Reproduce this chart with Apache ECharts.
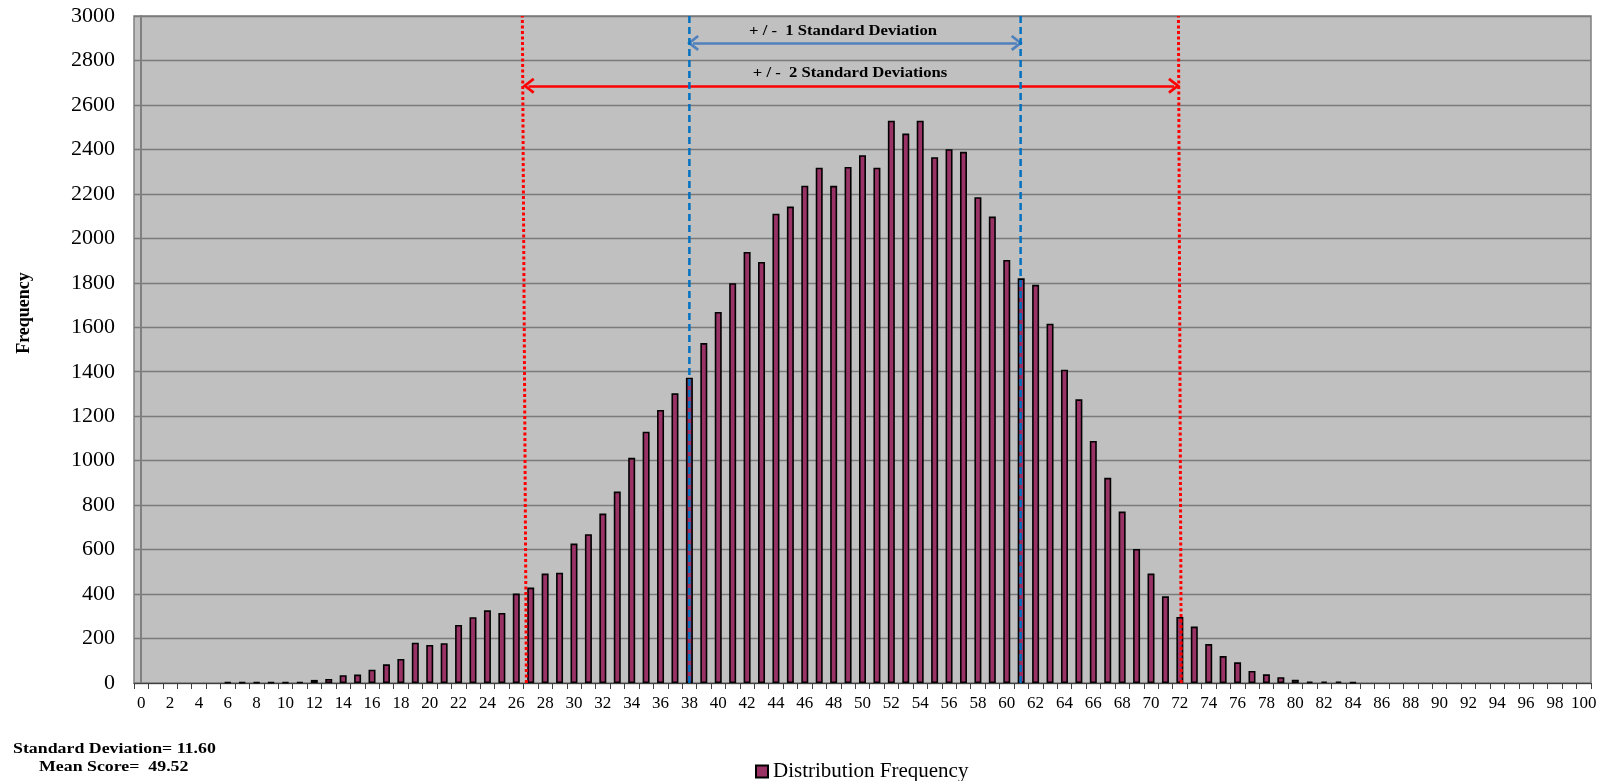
<!DOCTYPE html>
<html>
<head>
<meta charset="utf-8">
<script src="https://cdn.jsdelivr.net/npm/echarts@6/dist/echarts.min.js"></script>
<style>
html,body{margin:0;padding:0;background:#fff;}
#chart{width:1611px;height:781px;}
</style>
</head>
<body>
<div id="chart"></div>
<script>
// Scores 0..100 (category tick labels)
var categories = [];
for (var i = 0; i <= 100; i++) categories.push(String(i));

// Frequency per score
var frequency = [
  0, 0, 0, 0, 0, 0, 3, 3, 3, 3,          // 0-9
  3, 4, 14, 18, 35, 38, 60, 84, 108, 181, // 10-19
  171, 179, 261, 296, 327, 315, 402, 429, 492, 496, // 20-29
  627, 669, 762, 861, 1013, 1130, 1228, 1303, 1373, 1529, // 30-39
  1669, 1798, 1939, 1894, 2111, 2143, 2237, 2318, 2236, 2321, // 40-49
  2374, 2318, 2529, 2471, 2529, 2365, 2401, 2389, 2185, 2098, // 50-59
  1903, 1820, 1791, 1616, 1409, 1276, 1089, 923, 771, 603, // 60-69
  492, 390, 297, 254, 175, 121, 93, 54, 39, 26, // 70-79
  15, 6, 7, 7, 3, 0, 0, 0, 0, 0, // 80-89
  0, 0, 0, 0, 0, 0, 0, 0, 0, 0, // 90-99
  0 // 100
];

// Reference lines (positions in score-axis units)
var sd1Left = [[38.0, 0], [38.0, 3000]];
var sd1Right = [[60.96, 0], [60.96, 3000]];
var sd2Left = [[26.7, 0], [26.42, 3000]];
var sd2Right = [[72.1, 0], [71.9, 3000]];

// Arrows: [x1, x2, y]
var arrow1 = [38.25, 60.7, 2879];
var arrow2 = [26.85, 71.6, 2686];

var yTicks = {min: 0, max: 3000, interval: 200};

var seriesName = 'Distribution Frequency';
var statsText = ['Standard Deviation= 11.60', 'Mean Score=  49.52'];
var arrowText = ['+ / -  1 Standard Deviation', '+ / -  2 Standard Deviations'];

var barData = frequency.map(function (v) { return v === 0 ? '-' : v; });

var chevron = 'path://M0,10 L8,0 L16,10 L13.8,11.6 L8,4.2 L2.2,11.6 Z';
var font = 'Liberation Serif';

var chart = echarts.init(document.getElementById('chart'), null, {renderer: 'canvas'});
chart.setOption({
  animation: false,
  backgroundColor: '#ffffff',
  grid: {
    left: 134, top: 16, right: 20, bottom: 98,
    show: true, backgroundColor: '#C0C0C0', borderColor: '#808080', borderWidth: 1.5
  },
  legend: {
    data: [seriesName],
    left: 750, top: 756,
    itemWidth: 12, itemHeight: 12, icon: 'rect',
    textStyle: {fontFamily: font, fontSize: 21, color: '#000'},
    itemGap: 4
  },
  xAxis: [{
    type: 'category',
    data: categories,
    boundaryGap: true,
    axisLine: {lineStyle: {color: '#404040', width: 1.2}},
    axisTick: {show: true, interval: 0, length: 6, lineStyle: {color: '#404040'}},
    axisLabel: {interval: 1, fontFamily: font, fontSize: 17, color: '#000', margin: 12},
    splitLine: {show: false}
  }, {
    type: 'value',
    min: -0.5, max: 100.5,
    show: false
  }],
  yAxis: {
    type: 'value',
    min: yTicks.min, max: yTicks.max, interval: yTicks.interval,
    axisLine: {show: true, lineStyle: {color: '#808080', width: 2}},
    axisTick: {show: false},
    axisLabel: {fontFamily: font, fontSize: 22, color: '#000', margin: 19,
      formatter: function (v) { return String(v); }},
    splitLine: {lineStyle: {color: '#7a7a7a', width: 1.3}}
  },
  series: [{
    name: seriesName,
    type: 'bar',
    data: barData,
    barWidth: 7,
    itemStyle: {color: '#993366', borderColor: '#000', borderWidth: 1.6}
  }, {
    type: 'line', xAxisIndex: 1, data: sd2Left, symbol: 'none', z: 5,
    lineStyle: {color: '#FF0000', width: 3, type: [3, 2.5]}
  }, {
    type: 'line', xAxisIndex: 1, data: sd2Right, symbol: 'none', z: 5,
    lineStyle: {color: '#FF0000', width: 3, type: [3, 2.5]}
  }, {
    type: 'line', xAxisIndex: 1, data: sd1Left, symbol: 'none', z: 5,
    lineStyle: {color: '#0070C0', width: 2.5, type: [7, 4]}
  }, {
    type: 'line', xAxisIndex: 1, data: sd1Right, symbol: 'none', z: 5,
    lineStyle: {color: '#0070C0', width: 2.5, type: [7, 4]}
  }, {
    type: 'line', xAxisIndex: 1, data: [], z: 6,
    markLine: {
      silent: true, animation: false,
      symbol: [chevron, chevron], symbolSize: [16, 12],
      label: {show: false},
      data: [
        [{coord: [arrow1[0], arrow1[2]], lineStyle: {color: '#4F81BD', width: 2.5, type: 'solid'}},
         {coord: [arrow1[1], arrow1[2]]}],
        [{coord: [arrow2[0], arrow2[2]], lineStyle: {color: '#FF0000', width: 2.5, type: 'solid'}},
         {coord: [arrow2[1], arrow2[2]]}]
      ]
    }
  }],
  graphic: [
    {type: 'text', x: 24, y: 313, rotation: Math.PI / 2,
     style: {text: 'Frequency', font: 'bold 18px "Liberation Serif"', fill: '#000', textAlign: 'center', textVerticalAlign: 'middle'}},
    {type: 'text', x: 13, y: 749, scaleX: 1.15,
     style: {text: statsText[0], font: 'bold 15.5px "Liberation Serif"', fill: '#000', textAlign: 'left', textVerticalAlign: 'middle'}},
    {type: 'text', x: 39, y: 767, scaleX: 1.15,
     style: {text: statsText[1], font: 'bold 15.5px "Liberation Serif"', fill: '#000', textAlign: 'left', textVerticalAlign: 'middle'}},
    {type: 'text', x: 843, y: 31, scaleX: 1.11,
     style: {text: arrowText[0], font: 'bold 15px "Liberation Serif"', fill: '#000', textAlign: 'center', textVerticalAlign: 'middle'}},
    {type: 'text', x: 850, y: 73, scaleX: 1.11,
     style: {text: arrowText[1], font: 'bold 15px "Liberation Serif"', fill: '#000', textAlign: 'center', textVerticalAlign: 'middle'}}
  ]
});
</script>
</body>
</html>
